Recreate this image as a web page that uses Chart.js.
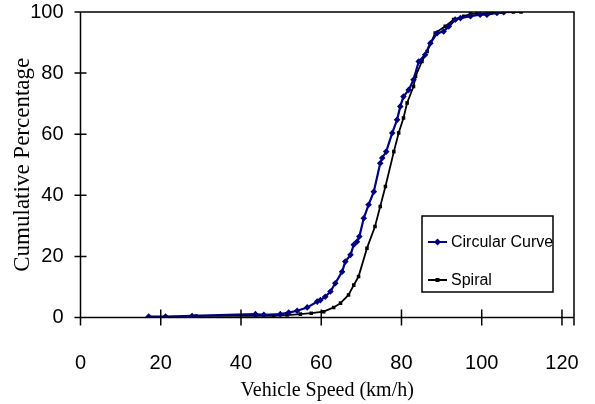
<!DOCTYPE html>
<html>
<head>
<meta charset="utf-8">
<script src="https://cdn.jsdelivr.net/npm/chart.js@4/dist/chart.umd.min.js"></script>
<style>
  html, body { margin: 0; padding: 0; background: #fff; }
  #wrap { width: 595px; height: 404px; position: relative; }
</style>
</head>
<body>
<div id="wrap"><canvas id="cdf"></canvas></div>
<script>
// speeds (km/h) and cumulative percentages
const circularSpeed = [17.0, 21.2, 27.8, 43.6, 45.7, 49.8, 51.9, 54.0, 56.5, 59.0,
  59.8, 61.0, 62.3, 63.5, 65.2, 66.0, 67.3, 68.1, 68.9, 69.5,
  70.6, 71.8, 73.1, 74.7, 75.2, 76.2, 77.7, 78.9, 79.7, 80.5,
  81.8, 83.0, 84.3, 85.9, 87.2, 88.9, 90.5, 91.8, 93.4, 94.7,
  97.2, 99.6, 101.3, 103.8, 105.5];
const circularPct = [0.3, 0.3, 0.5, 1.1, 0.9, 1.1, 1.6, 2.2, 3.3, 5.2,
  5.7, 6.8, 8.5, 11.2, 15.0, 18.3, 20.5, 23.8, 24.8, 26.5,
  32.5, 36.9, 41.2, 50.5, 52.2, 54.3, 60.4, 64.7, 69.1, 72.3,
  74.5, 77.8, 83.8, 86.0, 89.8, 93.1, 93.6, 95.3, 97.5, 98.0,
  98.6, 99.1, 99.1, 99.7, 99.9];

const spiralSpeed = [28.8, 43.6, 48.2, 51.5, 54.8, 57.5, 60.6, 63.1, 64.8, 66.8,
  68.1, 69.3, 71.4, 73.4, 74.7, 76.0, 78.1, 79.3, 80.5, 81.4,
  83.0, 83.5, 85.1, 86.4, 88.4, 90.9, 93.0, 95.5, 97.2, 98.8,
  104.6, 107.9, 109.8];
const spiralPct = [0.5, 0.5, 0.5, 0.8, 1.1, 1.4, 1.9, 3.3, 4.7, 7.4,
  10.6, 13.4, 22.7, 29.8, 36.3, 42.9, 54.3, 60.4, 65.3, 70.2,
  75.6, 78.9, 83.8, 87.1, 93.1, 95.3, 97.5, 98.6, 99.4, 99.4,
  99.9, 100, 100];

const xTicks = [0, 20, 40, 60, 80, 100, 120];
const yTicks = [0, 20, 40, 60, 80, 100];

const toPoints = (xs, ys) => xs.map((x, i) => ({ x: x, y: ys[i] }));

// frame, crossing tick marks and the boxed legend, Excel style
const excelFrame = {
  id: 'excelFrame',
  afterDraw(chart) {
    const { ctx, chartArea: a, scales } = chart;
    ctx.save();
    ctx.strokeStyle = '#000';
    ctx.lineWidth = 1.5;
    ctx.beginPath();
    ctx.moveTo(a.left, a.top); ctx.lineTo(a.right, a.top);
    ctx.lineTo(a.right, a.bottom + 8);
    ctx.moveTo(a.left, a.top); ctx.lineTo(a.left, a.bottom);
    ctx.moveTo(a.left - 6, a.bottom); ctx.lineTo(a.right, a.bottom);
    xTicks.forEach(v => {
      const px = scales.x.getPixelForValue(v);
      ctx.moveTo(px, a.bottom - 8); ctx.lineTo(px, a.bottom + 8);
    });
    yTicks.forEach(v => {
      const py = scales.y.getPixelForValue(v);
      ctx.moveTo(a.left - 6, py); ctx.lineTo(a.left + 6, py);
    });
    ctx.stroke();

    // legend
    const lx = 422, ly = 216, lw = 131, lh = 76;
    ctx.fillStyle = '#fff';
    ctx.fillRect(lx, ly, lw, lh);
    ctx.strokeRect(lx, ly, lw, lh);
    const rows = [{ ds: chart.data.datasets[1], y: 242 }, { ds: chart.data.datasets[0], y: 280 }];
    ctx.font = '16px "Liberation Sans", Arial, sans-serif';
    ctx.textBaseline = 'middle';
    rows.forEach(r => {
      ctx.strokeStyle = r.ds.borderColor;
      ctx.fillStyle = r.ds.borderColor;
      ctx.lineWidth = 2;
      ctx.beginPath();
      ctx.moveTo(428, r.y); ctx.lineTo(447, r.y);
      ctx.stroke();
      ctx.beginPath();
      if (r.ds.pointStyle === 'rectRot') {
        ctx.moveTo(437.5, r.y - 3.5); ctx.lineTo(441, r.y);
        ctx.lineTo(437.5, r.y + 3.5); ctx.lineTo(434, r.y);
        ctx.closePath(); ctx.fill();
      } else {
        ctx.fillRect(435.5, r.y - 2, 4, 4);
      }
      ctx.fillStyle = '#000';
      ctx.fillText(r.ds.label, 451, r.y + 1);
    });
    ctx.restore();
  }
};

new Chart(document.getElementById('cdf'), {
  type: 'scatter',
  data: {
    datasets: [
      {
        label: 'Spiral',
        data: toPoints(spiralSpeed, spiralPct),
        showLine: true,
        borderColor: '#000000',
        backgroundColor: '#000000',
        borderWidth: 1.8,
        pointStyle: 'rect',
        pointRadius: 2.5,
        pointBorderWidth: 0,
        tension: 0,
        order: 2
      },
      {
        label: 'Circular Curve',
        data: toPoints(circularSpeed, circularPct),
        showLine: true,
        borderColor: '#000080',
        backgroundColor: '#000080',
        borderWidth: 2.2,
        pointStyle: 'rectRot',
        pointRadius: 3.3,
        pointBorderWidth: 0,
        tension: 0,
        order: 1
      }
    ]
  },
  options: {
    responsive: true,
    maintainAspectRatio: false,
    animation: false,
    layout: { padding: { top: 12, right: 21, left: 0, bottom: 0 } },
    plugins: {
      legend: { display: false },
      tooltip: { enabled: false }
    },
    scales: {
      x: {
        type: 'linear',
        min: 0,
        max: 123,
        afterFit: s => { s.height = 86.5; s.paddingLeft = 0; s.paddingRight = 0; },
        afterBuildTicks: s => { s.ticks = xTicks.map(v => ({ value: v })); },
        grid: { display: false, drawTicks: false, tickLength: 0 },
        border: { display: false },
        ticks: {
          padding: 34,
          color: '#000',
          font: { family: '"Liberation Sans", Arial, sans-serif', size: 20 }
        },
        title: {
          display: true,
          text: 'Vehicle Speed (km/h)',
          color: '#000',
          padding: { top: 0, bottom: 1 },
          font: { family: '"Liberation Serif", "Times New Roman", serif', size: 20 }
        }
      },
      y: {
        min: 0,
        max: 100,
        afterFit: s => { s.width = 80.5; s.paddingTop = 0; s.paddingBottom = 0; },
        afterBuildTicks: s => { s.ticks = yTicks.map(v => ({ value: v })); },
        grid: { display: false, drawTicks: false, tickLength: 0 },
        border: { display: false },
        ticks: {
          padding: 17,
          color: '#000',
          font: { family: '"Liberation Sans", Arial, sans-serif', size: 20 }
        },
        title: {
          display: true,
          text: 'Cumulative Percentage',
          color: '#000',
          padding: { top: 9, bottom: 0 },
          font: { family: '"Liberation Serif", "Times New Roman", serif', size: 23 }
        }
      }
    }
  },
  plugins: [excelFrame]
});
</script>
</body>
</html>
